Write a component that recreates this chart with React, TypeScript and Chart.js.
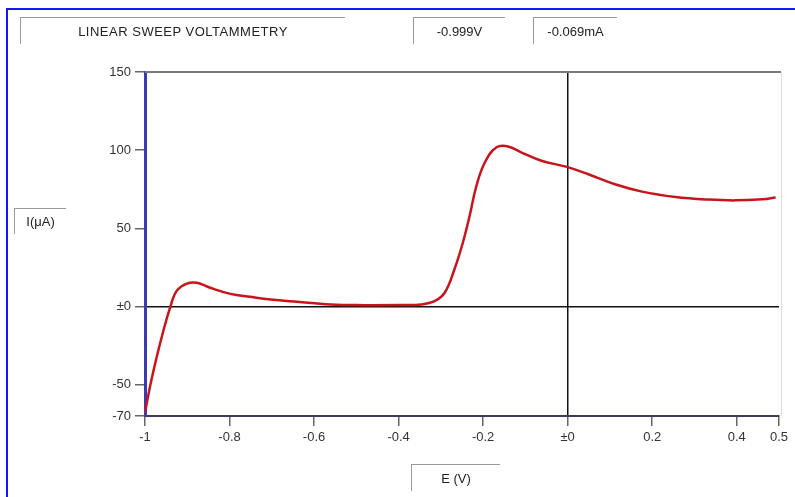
import React, { useEffect, useRef } from "react";
import { Chart, registerables } from "chart.js";

Chart.register(...registerables);

const E_VALUES = [-1.0, -0.988, -0.972, -0.956, -0.941, -0.925, -0.901, -0.877, -0.846, -0.798, -0.751, -0.703, -0.64, -0.561, -0.482, -0.394, -0.347, -0.315, -0.291, -0.268, -0.248, -0.232, -0.216, -0.196, -0.169, -0.141, -0.109, -0.062, -0.002, 0.049, 0.112, 0.176, 0.255, 0.334, 0.397, 0.461, 0.492];
const I_VALUES = [-68, -51, -32, -15, -1, 10, 14.7, 15.2, 12, 8.1, 6.2, 4.5, 3, 1.3, 0.9, 1.0, 1.3, 3.4, 8.8, 23.7, 40.8, 57.9, 77.1, 92.1, 101.7, 102.4, 98.5, 93.2, 89.3, 84.6, 78.2, 73.5, 70.1, 68.4, 67.9, 68.6, 69.7];
const X_TICKS = [-1, -0.8, -0.6, -0.4, -0.2, 0, 0.2, 0.4, 0.5];
const Y_TICKS = [-70, -50, 0, 50, 100, 150];

const TITLE = "LINEAR SWEEP VOLTAMMETRY";
const READ_V = "-0.999V";
const READ_I = "-0.069mA";
const Y_LABEL = "I(\u03BCA)";
const X_LABEL = "E (V)";

const FONT = "'Liberation Sans', Arial, sans-serif";

const fmt = (v: number) => (v === 0 ? "\u00B10" : String(v));

const frameLines = {
  id: "frameLines",
  afterDraw(chart: any) {
    const { ctx, chartArea } = chart;
    ctx.save();
    ctx.strokeStyle = "#7a7a7a";
    ctx.lineWidth = 2;
    ctx.beginPath();
    ctx.moveTo(chartArea.left, chartArea.top);
    ctx.lineTo(chartArea.right + 2, chartArea.top);
    ctx.stroke();
    ctx.strokeStyle = "#dddddd";
    ctx.lineWidth = 1;
    ctx.beginPath();
    ctx.moveTo(chartArea.right + 2.5, chartArea.top);
    ctx.lineTo(chartArea.right + 2.5, chartArea.bottom);
    ctx.stroke();
    ctx.restore();
  },
};

const boxStyle = (left: number, top: number, width: number, height: number): React.CSSProperties => ({
  position: "absolute",
  left,
  top,
  width,
  height,
  borderTop: "1px solid #9a9a9a",
  borderLeft: "1px solid #9a9a9a",
  boxSizing: "border-box",
  display: "flex",
  alignItems: "center",
  justifyContent: "center",
  fontFamily: FONT,
  fontSize: 13,
  color: "#222",
  whiteSpace: "nowrap",
});

export default function App() {
  const ref = useRef<HTMLCanvasElement>(null);
  useEffect(() => {
    if (!ref.current) return;
    const chart = new Chart(ref.current, {
      type: "line",
      data: {
        datasets: [
          {
            data: E_VALUES.map((x, i) => ({ x, y: I_VALUES[i] })),
            borderColor: "#c8141a",
            borderWidth: 2.5,
            pointRadius: 0,
            tension: 0.4,
            fill: false,
          },
        ],
      },
      options: {
        animation: false,
        responsive: false,
        maintainAspectRatio: false,
        layout: { padding: { top: 72, right: 16, left: 0, bottom: 0 } },
        plugins: { legend: { display: false }, tooltip: { enabled: false } },
        scales: {
          x: {
            type: "linear",
            min: -1,
            max: 0.5,
            afterBuildTicks: (s: any) => {
              s.ticks = X_TICKS.map((v) => ({ value: v }));
            },
            afterFit: (s: any) => {
              s.height = 81;
            },
            ticks: {
              callback: (v: any) => fmt(Number(v)),
              color: "#333",
              font: { size: 13, family: FONT },
              padding: 4,
              maxRotation: 0,
              autoSkip: false,
            },
            grid: {
              color: (c: any) => (c.tick && c.tick.value === 0 ? "#111" : "rgba(0,0,0,0)"),
              lineWidth: 1.5,
              tickColor: "#666",
              tickLength: 10,
            },
            border: { color: "#3c3c5a", width: 2 },
          },
          y: {
            type: "linear",
            min: -70,
            max: 150,
            afterBuildTicks: (s: any) => {
              s.ticks = Y_TICKS.map((v) => ({ value: v }));
            },
            afterFit: (s: any) => {
              s.width = 145;
            },
            ticks: {
              callback: (v: any) => fmt(Number(v)),
              color: "#333",
              font: { size: 13, family: FONT },
              padding: 4,
              autoSkip: false,
            },
            grid: {
              color: (c: any) => (c.tick && c.tick.value === 0 ? "#111" : "rgba(0,0,0,0)"),
              lineWidth: 1.5,
              tickColor: "#666",
              tickLength: 10,
            },
            border: { color: "#3a3ab4", width: 3 },
          },
        },
      },
      plugins: [frameLines],
    });
    return () => chart.destroy();
  }, []);

  return (
    <div style={{ position: "absolute", left: 0, top: 0, width: 795, height: 497, overflow: "hidden", background: "#fff" }}>
      <canvas ref={ref} width={795} height={497} style={{ position: "absolute", left: 0, top: 0 }} />
      <div
        style={{
          position: "absolute",
          left: 6,
          top: 8,
          width: 800,
          height: 500,
          borderLeft: "2px solid #1414ff",
          borderTop: "2px solid #1414ff",
          pointerEvents: "none",
        }}
      />
      <div style={{ ...boxStyle(20, 17, 325, 27), letterSpacing: 0.5 }}>{TITLE}</div>
      <div style={boxStyle(413, 17, 92, 27)}>{READ_V}</div>
      <div style={boxStyle(533, 17, 84, 27)}>{READ_I}</div>
      <div style={boxStyle(14, 208, 52, 26)}>{Y_LABEL}</div>
      <div style={boxStyle(411, 464, 89, 27)}>{X_LABEL}</div>
    </div>
  );
}
